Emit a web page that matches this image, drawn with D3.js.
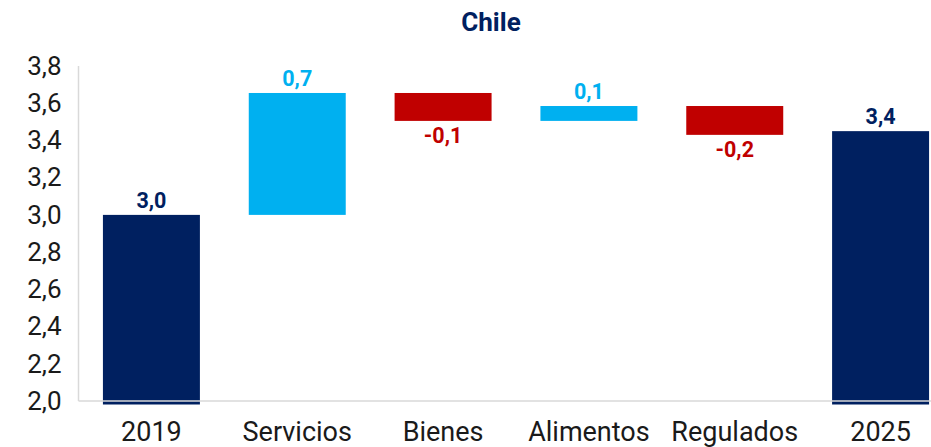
<!DOCTYPE html>
<html><head><meta charset="utf-8">
<script src="https://cdn.jsdelivr.net/npm/d3@7"></script>
<style>body{margin:0;background:#fff;}svg{display:block;font-family:Roboto,"Liberation Sans",sans-serif;}</style>
</head><body>
<svg id="c" width="931" height="447"></svg>
<script>
const title = "Chile";
const categories = ["2019","Servicios","Bienes","Alimentos","Regulados","2025"];
const kinds = ["total","delta","delta","delta","delta","total"];
const values = [3.00, 0.655, -0.15, 0.08, -0.155, 3.45];
const labels = ["3,0","0,7","-0,1","0,1","-0,2","3,4"];
const yTicks = [2.0,2.2,2.4,2.6,2.8,3.0,3.2,3.4,3.6,3.8];

const colors = {total:"#002060", up:"#00B0F0", down:"#C00000"};

// build waterfall segments
let run = 0;
const bars = categories.map((c,i)=>{
  let lo, hi, type;
  if (kinds[i]==="total") { lo = null; hi = values[i]; run = values[i]; type="total"; }
  else { const s = run; run = s + values[i]; lo = Math.min(s,run); hi = Math.max(s,run); type = values[i]>=0?"up":"down"; }
  return {c, lo, hi, type, label: labels[i], v: values[i]};
});

const svg = d3.select("#c");
const mLeft = 78.5, mRight = 953.5, mTop = 66, mBottom = 401;
const x = d3.scaleBand().domain(categories).range([mLeft,mRight]).paddingInner(0.335).paddingOuter(0.1675);
const y = d3.scaleLinear().domain([2.0,3.8]).range([mBottom,mTop]);

// bars
svg.append("g").selectAll("rect").data(bars).join("rect")
  .attr("x", d=>x(d.c))
  .attr("width", x.bandwidth())
  .attr("y", d=>y(d.hi))
  .attr("height", d=> d.type==="total" ? (y(2.0)+3.5 - y(d.hi)) : (y(d.lo)-y(d.hi)))
  .attr("fill", d=>colors[d.type]);

// axis lines
svg.append("line").attr("x1",mLeft).attr("x2",931).attr("y1",y(2.0)).attr("y2",y(2.0))
  .attr("stroke","#d9d9d9").attr("stroke-width",1.5);
svg.append("line").attr("x1",mLeft).attr("x2",mLeft).attr("y1",mTop).attr("y2",y(2.0))
  .attr("stroke","#d9d9d9").attr("stroke-width",1.5);

// y axis labels
const yAxis = d3.axisLeft(y).tickValues(yTicks).tickSize(0).tickPadding(17)
  .tickFormat(d=>d3.format(".1f")(d).replace(".",","));
const ya = svg.append("g").attr("transform",`translate(${mLeft},0)`).call(yAxis);
ya.select(".domain").remove();
ya.selectAll("text").attr("font-size",26).attr("fill","#1a1a1a").attr("font-family","Roboto");

// x axis labels
const xAxis = d3.axisBottom(x).tickSize(0).tickPadding(21);
const xa = svg.append("g").attr("transform",`translate(0,${mBottom})`).call(xAxis);
xa.select(".domain").remove();
xa.selectAll("text").attr("font-size",27).attr("fill","#1a1a1a").attr("font-family","Roboto");

// value labels
svg.append("g").selectAll("text").data(bars).join("text")
  .attr("x", d=>x(d.c)+x.bandwidth()/2)
  .attr("y", d=> d.type==="down" ? y(d.lo)+22 : y(d.hi)-7)
  .attr("text-anchor","middle")
  .attr("font-size",21.5).attr("font-weight","bold")
  .attr("fill", d=>colors[d.type])
  .text(d=>d.label);

// title
svg.append("text").attr("x",491).attr("y",31).attr("text-anchor","middle")
  .attr("font-size",26).attr("font-weight","bold").attr("fill","#002060").text(title);
</script>
</body></html>
